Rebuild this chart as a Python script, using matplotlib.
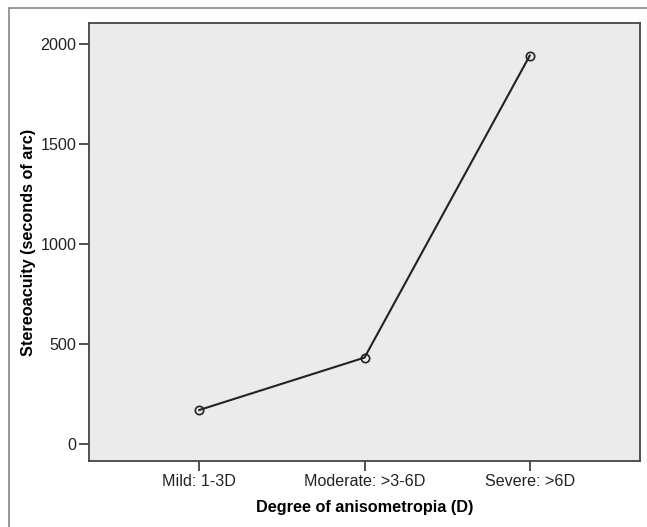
import matplotlib
matplotlib.use("Agg")
import matplotlib.pyplot as plt
from matplotlib.patches import Rectangle

plt.rcParams['font.family'] = ['Liberation Sans', 'DejaVu Sans']

categories = ["Mild: 1-3D", "Moderate: >3-6D", "Severe: >6D"]
stereoacuity = [170, 432, 1942]
yticks = [0, 500, 1000, 1500, 2000]

W, H = 647, 527
fig = plt.figure(figsize=(W / 100, H / 100), dpi=100)

# outer frame (only left/top visible in reference)
fig.patches.append(Rectangle((9 / W, -0.05), 1.2, 1 - 8 / H + 0.05,
                             transform=fig.transFigure, fill=False,
                             edgecolor="#888888", linewidth=1.2))

ax = fig.add_axes([89 / W, 1 - 461 / H, (640 - 89) / W, (461 - 23) / H])
ax.set_facecolor("#ebebeb")

x = range(len(categories))
ax.plot(x, stereoacuity, color="#222222", linewidth=1.5, marker="o",
        markersize=6, markerfacecolor="none", markeredgecolor="#222222",
        markeredgewidth=1.2)

ax.set_xlim(-0.667, 2.667)
ax.set_ylim(-85, 2105)
ax.set_xticks(list(x))
ax.set_xticklabels(categories)
ax.set_yticks(yticks)

for s in ax.spines.values():
    s.set_color("#444444")
    s.set_linewidth(1.3)

ax.tick_params(direction="out", length=7, width=1.2, color="#333333",
               labelsize=11.6, labelcolor="#222222", pad=2)

ax.set_xlabel("Degree of anisometropia (D)", fontsize=11.7, fontweight="bold",
              labelpad=8)
ax.set_ylabel("Stereoacuity (seconds of arc)", fontsize=11.7, fontweight="bold")
ax.yaxis.set_label_coords(-0.097, 0.5)

fig.savefig("out.png", dpi=100)
